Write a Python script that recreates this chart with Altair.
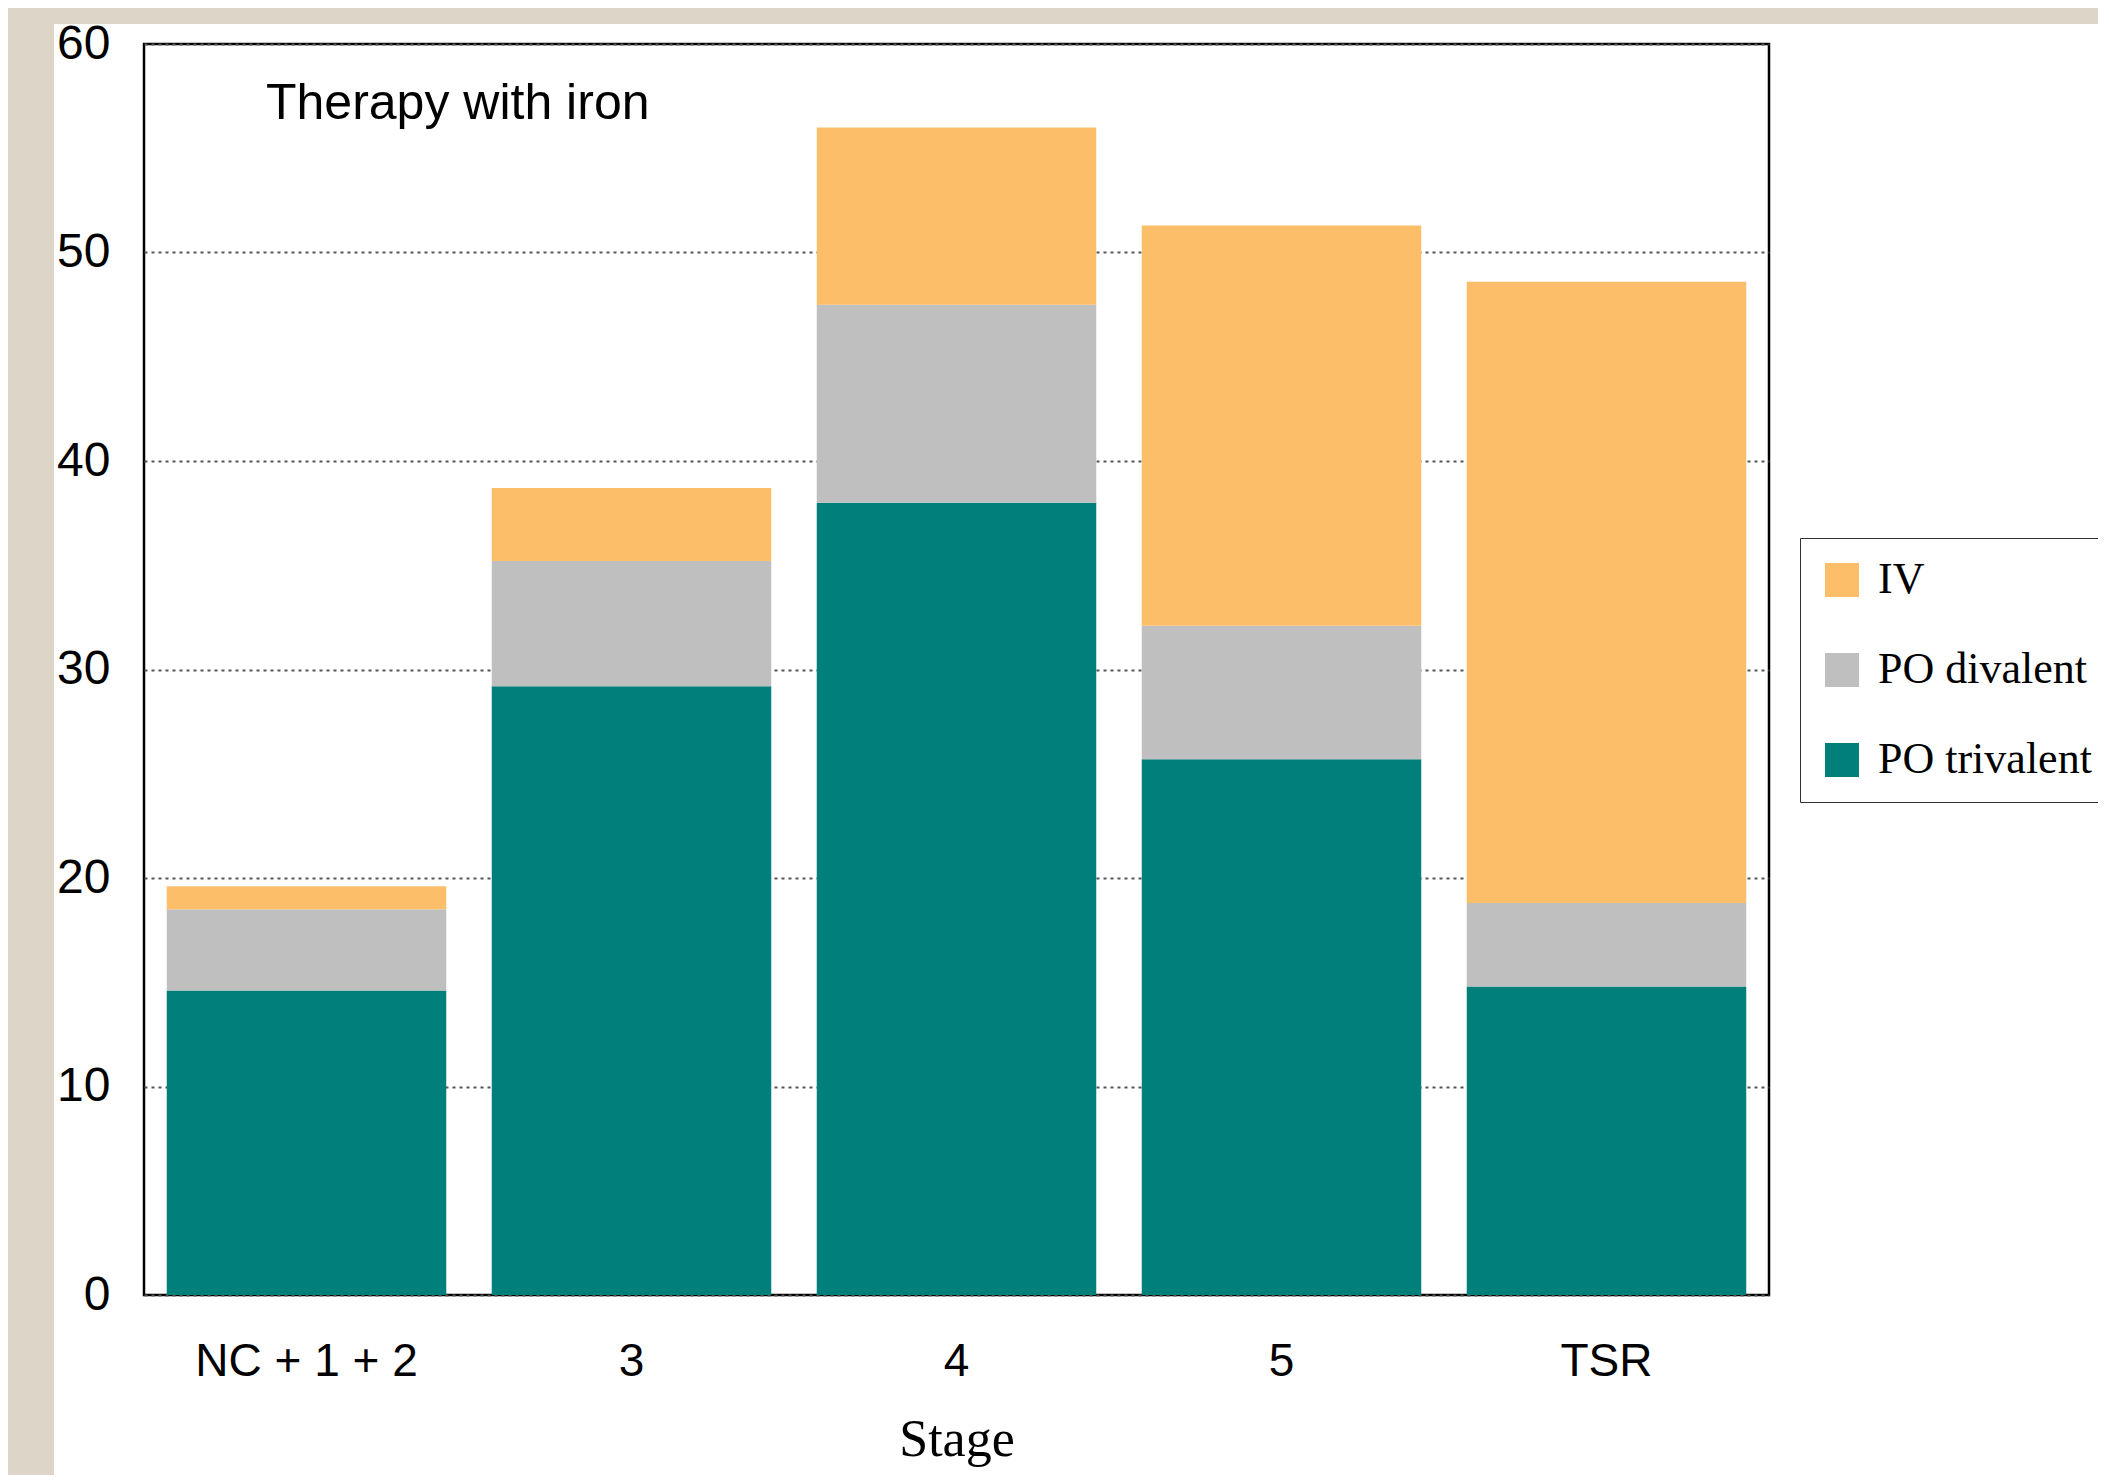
import altair as alt
import pandas as pd

# ---- data ----
stages = ["NC + 1 + 2", "3", "4", "5", "TSR"]
series = ["IV", "PO divalent", "PO trivalent"]
po_trivalent = [14.6, 29.2, 38.0, 25.7, 14.8]
po_divalent = [3.9, 6.0, 9.5, 6.4, 4.0]
iv = [1.1, 3.5, 8.5, 19.2, 29.8]
series_colors = ["#FDBE6A", "#BFBFBF", "#007F7B"]
stack_rank = {"PO trivalent": 0, "PO divalent": 1, "IV": 2}
y_ticks = [0, 10, 20, 30, 40, 50, 60]
chart_title = "Therapy with iron"
x_title = "Stage"

rows = []
for i, s in enumerate(stages):
    for name, vals in (("PO trivalent", po_trivalent), ("PO divalent", po_divalent), ("IV", iv)):
        rows.append({"stage": s, "type": name, "value": vals[i], "rank": stack_rank[name]})
df = pd.DataFrame(rows)

# ---- layout (pixels) ----
W, H = 1625, 1251
PAD = {"left": 136, "top": 36, "right": 329, "bottom": 180}
BEIGE = "#DDD5C8"

# decorative beige page strips (left and top), as in the reference slide
deco = pd.DataFrame({"x": [-PAD["left"], -PAD["left"]],
                     "x2": [-90, W + PAD["right"]],
                     "y": [-PAD["top"], -PAD["top"]],
                     "y2": [H + PAD["bottom"], -20]})
strips = alt.Chart(deco).mark_rect(color=BEIGE, strokeWidth=0).encode(
    x=alt.X("x:Q", scale=None), x2="x2:Q",
    y=alt.Y("y:Q", scale=None), y2="y2:Q",
)

bars = alt.Chart(df).mark_bar(strokeWidth=0).encode(
    x=alt.X(
        "stage:N",
        sort=stages,
        scale=alt.Scale(paddingInner=0.14, paddingOuter=0.07),
        axis=alt.Axis(
            labelAngle=0, ticks=False, domain=False,
            labelFont="Liberation Sans", labelFontSize=46, labelColor="black",
            labelPadding=44, labelLimit=500,
            title=x_title, titleFont="Liberation Serif", titleFontSize=52,
            titleFontWeight="normal", titleColor="black", titlePadding=30,
        ),
    ),
    y=alt.Y(
        "value:Q",
        stack="zero",
        scale=alt.Scale(domain=[0, 60], nice=False),
        axis=alt.Axis(
            values=y_ticks, grid=True, gridDash=[3, 4], gridColor="#555555",
            gridWidth=2, ticks=False, domain=False,
            labelFont="Liberation Sans", labelFontSize=48, labelColor="black",
            labelPadding=34, title=None,
        ),
    ),
    color=alt.Color(
        "type:N",
        scale=alt.Scale(domain=series, range=series_colors),
        legend=alt.Legend(
            title=None, orient="none", legendX=1656, legendY=494,
            symbolType="square", symbolSize=1156, symbolStrokeWidth=0,
            symbolOpacity=1,
            labelFont="Liberation Serif", labelFontSize=44, labelColor="black",
            labelOffset=14, labelLimit=400,
            strokeColor="#333333", fillColor="white", padding=20, rowPadding=46,
        ),
    ),
    order=alt.Order("rank:Q", sort="ascending"),
)

chart = alt.layer(strips, bars).properties(
    width=W, height=H,
    autosize=alt.AutoSizeParams(type="none"),
    padding=PAD,
    background="white",
    title=alt.TitleParams(
        text=chart_title, anchor="start", frame="group", orient="top",
        font="Liberation Sans", fontSize=50, fontWeight="normal", color="black",
        dx=122, dy=121, offset=0,
    ),
).configure_view(
    stroke="black", strokeWidth=2.5, fill="white",
)

chart.save("out.html", embed_options={"renderer": "svg", "actions": False})
